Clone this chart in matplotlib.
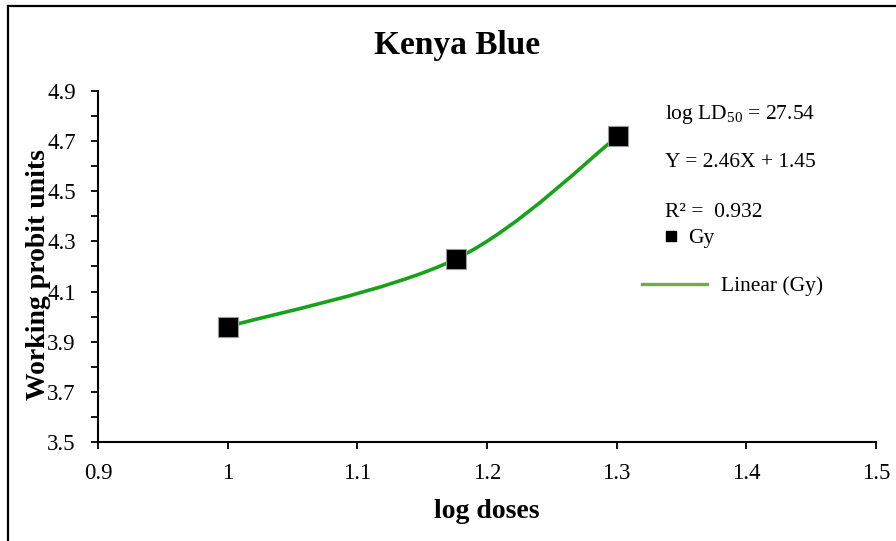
import numpy as np
import matplotlib
matplotlib.use("Agg")
import matplotlib.pyplot as plt
from matplotlib.path import Path
from matplotlib.patches import PathPatch
from matplotlib.lines import Line2D
from matplotlib.ticker import MultipleLocator, FixedLocator

plt.rcParams["font.family"] = ["Liberation Serif", "DejaVu Serif"]
plt.rcParams["mathtext.fontset"] = "custom"
plt.rcParams["mathtext.rm"] = "Liberation Serif"

log_dose = [1.0, 1.176, 1.301]
probit = [3.96, 4.23, 4.72]

x_ticks = [0.9, 1.0, 1.1, 1.2, 1.3, 1.4, 1.5]
x_labels = ["0.9", "1", "1.1", "1.2", "1.3", "1.4", "1.5"]
y_ticks = [3.5, 3.7, 3.9, 4.1, 4.3, 4.5, 4.7, 4.9]

GREEN = "#17a21a"
TXT = 15.5


def smooth_path(xs, ys):
    # Excel-style smoothed line: cubic Bezier through the points (Catmull-Rom)
    p = np.column_stack([xs, ys])
    n = len(p)
    verts = [p[0]]
    codes = [Path.MOVETO]
    for i in range(n - 1):
        prev = p[i - 1] if i > 0 else p[i]
        nxt = p[i + 2] if i + 2 < n else p[i + 1]
        c1 = p[i] + (p[i + 1] - prev) / 6
        c2 = p[i + 1] - (nxt - p[i]) / 6
        verts += [c1, c2, p[i + 1]]
        codes += [Path.CURVE4] * 3
    return Path(verts, codes)


fig = plt.figure(figsize=(8.96, 5.41), dpi=100)
ax = fig.add_axes([0.1094, 0.183, 0.8683, 0.6488])

ax.add_patch(PathPatch(smooth_path(log_dose, probit), facecolor="none",
                       edgecolor=GREEN, linewidth=2.6, zorder=2))
ax.plot(log_dose, probit, "s", color="black", markersize=15,
        markeredgecolor="#9a9a9a", markeredgewidth=0.8, zorder=3)

ax.set_xlim(0.9, 1.5)
ax.set_ylim(3.5, 4.9)
ax.xaxis.set_major_locator(FixedLocator(x_ticks))
ax.set_xticklabels(x_labels)
ax.yaxis.set_major_locator(FixedLocator(y_ticks))
ax.set_yticklabels([f"{v:.1f}" for v in y_ticks])
ax.yaxis.set_minor_locator(MultipleLocator(0.1))
ax.tick_params(axis="both", which="both", direction="out", length=5, width=1.3,
               labelsize=16.5, colors="black")
ax.tick_params(axis="y", pad=11)
ax.tick_params(axis="x", pad=10)
for s in ("top", "right"):
    ax.spines[s].set_visible(False)
for s in ("left", "bottom"):
    ax.spines[s].set_linewidth(1.5)

ax.set_xlabel("log doses", fontsize=20, fontweight="bold", labelpad=11)
# the y label sits over the tick labels, as in the original
fig.text(0.043, 0.492, "Working probit units", rotation=90, fontsize=20,
         fontweight="bold", ha="center", va="center")
fig.text(0.51, 0.915, "Kenya Blue", fontsize=24, fontweight="bold",
         ha="center", va="center")

fig.text(0.742, 0.789, r"log LD$_{\mathregular{50}}$ = 27.54", fontsize=TXT, va="center")
fig.text(0.742, 0.699, "Y = 2.46X + 1.45", fontsize=TXT, va="center")
fig.text(0.742, 0.608, "R² =  0.932", fontsize=TXT, va="center")

h1 = Line2D([], [], marker="s", linestyle="none", color="black", markersize=7)
h2 = Line2D([], [], color="#70ad47", linewidth=2.4)
fig.legend([h1], ["Gy"], loc="center left", bbox_to_anchor=(0.737, 0.56),
           frameon=False, fontsize=TXT, handlelength=1.0, handletextpad=0.3,
           borderaxespad=0, borderpad=0)
fig.legend([h2], ["Linear (Gy)"], loc="center left", bbox_to_anchor=(0.7165, 0.471),
           frameon=False, fontsize=TXT, handlelength=3.0, handletextpad=0.65,
           borderaxespad=0, borderpad=0)

# chart-area border (only top and left edges are visible in the crop)
fig.add_artist(Line2D([0.009, 0.009], [0, 0.988], color="black", linewidth=1.6,
                      transform=fig.transFigure))
fig.add_artist(Line2D([0.009, 1.0], [0.988, 0.988], color="black", linewidth=1.6,
                      transform=fig.transFigure))

fig.savefig("out.png", dpi=100, facecolor="white")
